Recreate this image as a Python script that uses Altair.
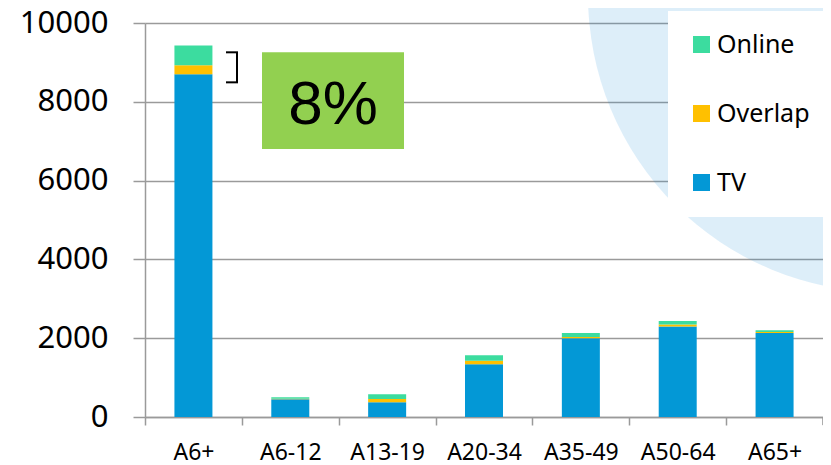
import altair as alt
import pandas as pd

categories = ["A6+", "A6-12", "A13-19", "A20-34", "A35-49", "A50-64", "A65+"]
tv = [8700, 450, 373, 1340, 2000, 2300, 2130]
overlap = [230, 15, 85, 85, 30, 50, 30]
online = [500, 35, 120, 145, 100, 85, 40]
series = ["Online", "Overlap", "TV"]
colors = ["#3CDC9F", "#FFC000", "#0398D6"]
y_ticks = [0, 2000, 4000, 6000, 8000, 10000]
note_text = "8%"

rows = []
for i, c in enumerate(categories):
    rows.append({"cat": c, "series": "TV", "value": tv[i], "ord": 0})
    rows.append({"cat": c, "series": "Overlap", "value": overlap[i], "ord": 1})
    rows.append({"cat": c, "series": "Online", "value": online[i], "ord": 2})
df = pd.DataFrame(rows)
one = pd.DataFrame({"k": [0]})

GRAY = "#9a9a9a"

background = alt.Chart(one).mark_point(
    shape="circle", filled=True, size=352836, color="#1E90D8", opacity=0.15,
    strokeWidth=0,
).encode(x=alt.value(740), y=alt.value(-28))

bars = alt.Chart(df).mark_bar(size=38).encode(
    x=alt.X(
        "cat:N",
        sort=categories,
        scale=alt.Scale(paddingInner=0, paddingOuter=0),
        axis=alt.Axis(
            title=None, labelAngle=0, tickBand="extent", grid=False,
            domainColor=GRAY, domainWidth=1.5, tickColor=GRAY, tickWidth=1.5,
            tickSize=8, labelFontSize=23, labelColor="black", labelPadding=16,
            labelFont="Noto Sans",
        ),
    ),
    y=alt.Y(
        "value:Q",
        stack="zero",
        scale=alt.Scale(domain=[0, 10000], nice=False),
        axis=alt.Axis(
            title=None, values=y_ticks, format="d", grid=True, gridColor=GRAY,
            gridWidth=1.5, gridOpacity=1, domainColor=GRAY, domainWidth=1.5,
            tickColor=GRAY, tickWidth=1.5, tickSize=12, labelFontSize=31,
            labelColor="black", labelPadding=25, labelFont="Noto Sans",
        ),
    ),
    color=alt.Color(
        "series:N",
        scale=alt.Scale(domain=series, range=colors),
        legend=alt.Legend(
            title=None, orient="none", legendX=523, legendY=-12,
            fillColor="white", padding=21, symbolType="square",
            symbolSize=289, symbolStrokeWidth=0, labelFontSize=25,
            labelFont="Noto Sans", labelColor="black", rowPadding=43,
            labelOffset=3,
        ),
    ),
    order=alt.Order("ord:Q", sort="ascending"),
)

note_box = alt.Chart(one).mark_rect(color="#92D050").encode(
    x=alt.value(117), x2=alt.value(259), y=alt.datum(9260), y2=alt.datum(6800)
)
note = alt.Chart(one).mark_text(
    text=note_text, font="Liberation Sans", fontSize=62, color="black",
    baseline="middle", align="center",
).encode(x=alt.value(188), y=alt.datum(7920))

br_v = alt.Chart(one).mark_rule(color="black", strokeWidth=2).encode(
    x=alt.value(92), y=alt.datum(9256), y2=alt.datum(8494)
)
br_t = alt.Chart(one).mark_rule(color="black", strokeWidth=2).encode(
    x=alt.value(81), x2=alt.value(93), y=alt.datum(9256)
)
br_b = alt.Chart(one).mark_rule(color="black", strokeWidth=2).encode(
    x=alt.value(81), x2=alt.value(93), y=alt.datum(8494)
)
end_tick = alt.Chart(one).mark_rule(color=GRAY, strokeWidth=1.5).encode(
    x=alt.value(678), y=alt.value(394), y2=alt.value(402)
)

chart = alt.layer(
    background, bars, note_box, note, br_v, br_t, br_b, end_tick
).properties(
    width=678,
    height=394,
    padding={"left": 137, "top": 15, "right": 0, "bottom": 48},
    autosize="none",
).configure_view(stroke=None)

chart.save("out.html", embed_options={"renderer": "svg", "actions": False})
